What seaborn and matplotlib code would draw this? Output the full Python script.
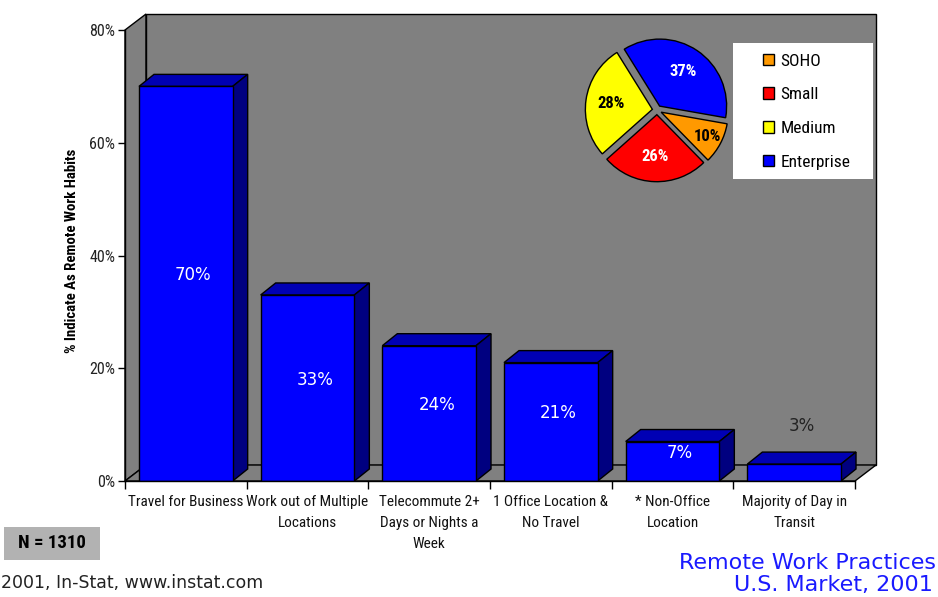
import numpy as np
import matplotlib
matplotlib.use("Agg")
import matplotlib.pyplot as plt
import seaborn as sns
import pandas as pd
from matplotlib.patches import Polygon, Rectangle, Patch
from matplotlib import font_manager as fm

# ---------------- data ----------------
categories = ["Travel for Business",
              "Work out of Multiple\nLocations",
              "Telecommute 2+\nDays or Nights a\nWeek",
              "1 Office Location &\nNo Travel",
              "* Non-Office\nLocation",
              "Majority of Day in\nTransit"]
values = [70, 33, 24, 21, 7, 3]
bar_labels = ["70%", "33%", "24%", "21%", "7%", "3%"]
y_ticks = [0, 20, 40, 60, 80]
y_tick_labels = ["0%", "20%", "40%", "60%", "80%"]
pie_segments = ["SOHO", "Small", "Medium", "Enterprise"]
pie_values = [10, 26, 28, 37]
pie_labels = ["10%", "26%", "28%", "37%"]

# ---------------- style ----------------
pie_colors = ["#FF9900", "#FF0000", "#FFFF00", "#0000FF"]
pie_text_colors = ["black", "white", "black", "white"]
GRAY = "#808080"
FRONT = "#0000FF"
TOP = "#0000B4"
SIDE = "#000080"

# pick a narrow sans if one is installed
NARROW_FAMILY, NARROW_STRETCH, K = "Liberation Sans", "normal", 0.88
_fl = fm.fontManager.ttflist
_named = {f.name for f in _fl}
_found = False
for nm in ["Liberation Sans Narrow", "Arial Narrow", "Roboto Condensed",
           "Noto Sans Condensed", "Open Sans Condensed", "DejaVu Sans Condensed"]:
    if nm in _named:
        NARROW_FAMILY, NARROW_STRETCH, K = nm, "normal", 1.0
        _found = True
        break
if not _found:
    for nm in ["Liberation Sans", "Roboto", "Noto Sans", "Open Sans", "DejaVu Sans"]:
        if any(f.name == nm and str(f.stretch) in ("condensed", "semi-condensed", "extra-condensed")
               for f in _fl):
            NARROW_FAMILY, NARROW_STRETCH, K = nm, "condensed", 1.0
            break


def nf(size, weight="normal"):
    return fm.FontProperties(family=[NARROW_FAMILY, "DejaVu Sans"], stretch=NARROW_STRETCH,
                             size=size * K, weight=weight)


plt.rcParams["font.family"] = ["DejaVu Sans"]

W, H = 938, 597
fig = plt.figure(figsize=(W / 100, H / 100), dpi=100)
fig.patch.set_facecolor("white")


def fx(px):
    return px / W


def fy(py):
    return 1 - py / H


ax = fig.add_axes([fx(125), fy(481), (855 - 125) / W, (481 - 30) / H])
ax.set_facecolor("none")

df = pd.DataFrame({"category": categories, "value": values})
sns.barplot(data=df, x="category", y="value", color=FRONT, saturation=1,
            width=0.77, edgecolor="black", linewidth=1, ax=ax, zorder=5)

ax.set_xlim(-0.5, 5.5)
ax.set_ylim(0, 80)

# depth offsets (data units)
wdx, wdy = 21 / 121.67, 16 / 5.6375
bdx, bdy = 15 / 121.67, 12 / 5.6375
x0, x1 = ax.get_xlim()
y0, y1 = ax.get_ylim()

walls = [
    [(x0, y0), (x0, y1), (x0 + wdx, y1 + wdy), (x0 + wdx, y0 + wdy)],
    [(x0 + wdx, y0 + wdy), (x0 + wdx, y1 + wdy), (x1 + wdx, y1 + wdy), (x1 + wdx, y0 + wdy)],
    [(x0, y0), (x1, y0), (x1 + wdx, y0 + wdy), (x0 + wdx, y0 + wdy)],
]
for pts in walls:
    ax.add_patch(Polygon(pts, closed=True, facecolor=GRAY, edgecolor="black",
                         linewidth=1, clip_on=False, zorder=1))

for p in list(ax.patches):
    if not isinstance(p, Rectangle):
        continue
    bx, bw, bh = p.get_x(), p.get_width(), p.get_height()
    top = [(bx, bh), (bx + bw, bh), (bx + bw + bdx, bh + bdy), (bx + bdx, bh + bdy)]
    side = [(bx + bw, 0), (bx + bw, bh), (bx + bw + bdx, bh + bdy), (bx + bw + bdx, bdy)]
    ax.add_patch(Polygon(top, closed=True, facecolor=TOP, edgecolor="black",
                         linewidth=1, clip_on=False, zorder=4))
    ax.add_patch(Polygon(side, closed=True, facecolor=SIDE, edgecolor="black",
                         linewidth=1, clip_on=False, zorder=4))

# bar value labels
for i, (v, lab) in enumerate(zip(values, bar_labels)):
    if v >= 5:
        ax.text(i + bdx / 2, v / 2 + 1.5, lab, ha="center", va="center",
                color="white", fontsize=12, family="DejaVu Sans", zorder=8)
    else:
        ax.text(i + bdx / 2, v + bdy + 4.6, lab, ha="center", va="center",
                color="#222222", fontsize=12, family="DejaVu Sans", zorder=8)

# axes, ticks
for s in ["top", "right"]:
    ax.spines[s].set_visible(False)
for s in ["left", "bottom"]:
    ax.spines[s].set_color("black")
    ax.spines[s].set_linewidth(1)
    ax.spines[s].set_zorder(6)

ax.set_yticks(y_ticks)
ax.set_yticklabels(y_tick_labels, fontproperties=nf(11.5), color="#222222")
ax.tick_params(axis="y", direction="out", length=5, width=1, color="black", pad=2)

ax.set_xticks(range(len(categories)))
ax.set_xticklabels(categories, fontproperties=nf(11), color="#111111", linespacing=1.62)
ax.set_xticks(np.arange(-0.5, len(categories), 1), minor=True)
ax.tick_params(axis="x", which="major", length=0, pad=10)
ax.tick_params(axis="x", which="minor", direction="out", length=6, width=1, color="black")
ax.set_xlabel("")
ax.set_ylabel("")

fig.text(fx(72), fy(251), "% Indicate As Remote Work Habits", rotation=90,
         ha="center", va="center", fontproperties=nf(10.7, "bold"), color="black")

# ---------------- pie ----------------
S = 160
pax = fig.add_axes([fx(657 - S / 2), fy(110 + S / 2), S / W, S / H])
wedges, _ = pax.pie(pie_values, colors=pie_colors, startangle=-10, counterclock=False,
                    explode=[0.07] * len(pie_values),
                    wedgeprops=dict(edgecolor="black", linewidth=1))
L = S / 2 / 67
pax.set_xlim(-L, L)
pax.set_ylim(-L, L)
pax.set_aspect("equal")
pax.axis("off")
for w, lab, tc, v in zip(wedges, pie_labels, pie_text_colors, pie_values):
    th = np.deg2rad((w.theta1 + w.theta2) / 2)
    r = 0.78 if v < 15 else 0.62
    cx, cy = w.center
    pax.text(cx + r * np.cos(th), cy + r * np.sin(th), lab, ha="center", va="center",
             color=tc, fontproperties=nf(12, "bold"))

# legend box
fig.patches.append(Rectangle((fx(733), fy(179)), (873 - 733) / W, (179 - 43) / H,
                             transform=fig.transFigure, facecolor="white",
                             edgecolor="none", zorder=1))
handles = [Patch(facecolor=c, edgecolor="black", linewidth=1) for c in pie_colors]
leg = fig.legend(handles, pie_segments, loc="upper left",
                 bbox_to_anchor=(fx(762.5), fy(53.5)), bbox_transform=fig.transFigure,
                 frameon=False, borderpad=0, borderaxespad=0,
                 handlelength=0.65, handleheight=0.65, handletextpad=0.4,
                 labelspacing=1.08, prop=nf(12.5))
leg.set_zorder(6)

# ---------------- footer ----------------
fig.patches.append(Rectangle((fx(4), fy(560)), 96 / W, 33 / H,
                             transform=fig.transFigure, facecolor="#B2B2B2",
                             edgecolor="none", zorder=1))
fig.text(fx(52), fy(543.5), "N = 1310", ha="center", va="center",
         fontproperties=nf(13.5, "bold"), color="black")

fig.text(fx(1), fy(588), "2001, In-Stat, www.instat.com", ha="left", va="baseline",
         fontsize=12.5, family="DejaVu Sans", color="#222222")
fig.text(fx(936), fy(569), "Remote Work Practices", ha="right", va="baseline",
         fontsize=16, family="DejaVu Sans", color="#1a1aff")
fig.text(fx(933), fy(591), "U.S. Market, 2001", ha="right", va="baseline",
         fontsize=16, family="DejaVu Sans", color="#1a1aff")

fig.savefig("out.png", dpi=100)
